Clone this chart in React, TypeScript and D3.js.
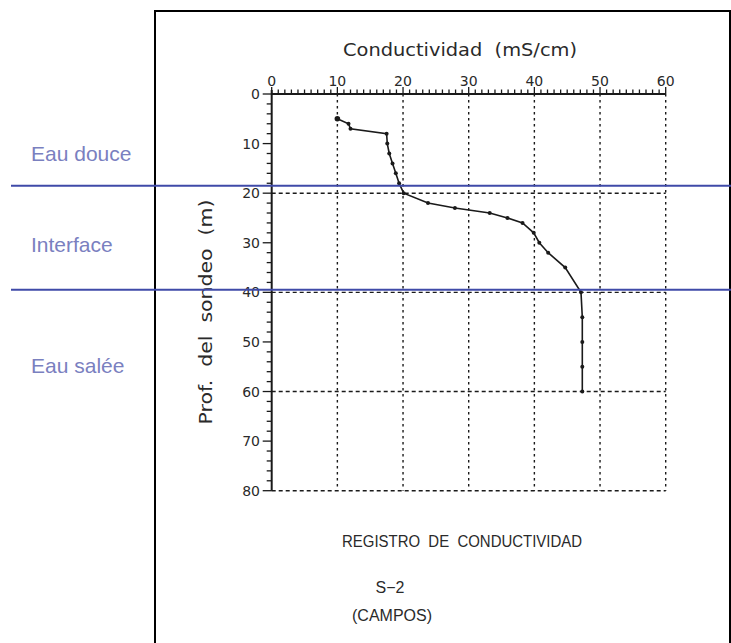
import React from "react";
import * as d3 from "d3";

const conductivity = [10, 11.7, 12, 17.5, 17.6, 17.9, 18.4, 18.9, 19.4, 20.1, 23.8, 27.9, 33.2, 35.9, 38.2, 39.9, 40.75, 42.1, 44.7, 47.1, 47.3, 47.3, 47.3, 47.3];
const depth = [5, 6, 7, 8, 10, 12, 14, 16, 18, 20, 22, 23, 24, 25, 26, 28, 30, 32, 35, 40, 45, 50, 55, 60];
const xTicks = [0, 10, 20, 30, 40, 50, 60];
const yTicks = [0, 10, 20, 30, 40, 50, 60, 70, 80];
const yGrid = [20, 40, 60, 80];
const xGrid = [10, 20, 30, 40, 50, 60];
const zoneBounds = [18.5, 39.5];
const zoneLabels = [
  { label: "Eau douce", depth: 12 },
  { label: "Interface", depth: 30.3 },
  { label: "Eau salée", depth: 54.7 },
];

export default function App() {
  const W = 731, H = 643;
  const x = d3.scaleLinear().domain([0, 60]).range([271.7, 665.7]);
  const y = d3.scaleLinear().domain([0, 80]).range([94, 490.7]);
  const pts: [number, number][] = conductivity.map((c, i) => [c, depth[i]]);
  const line = d3.line<[number, number]>().x(d => x(d[0])).y(d => y(d[1]));
  const minorX = d3.range(0, 61, 1);
  const minorY = d3.range(0, 81, 2);
  const ink = "#1a1a1a";
  const txt = "#2a2a2a";
  const font = "'DejaVu Sans', sans-serif";
  return (
    <svg width={W} height={H} style={{ position: "fixed", left: 0, top: 0, background: "#fff" }}>
      <rect x={0} y={0} width={W} height={H} fill="#fff" />
      <rect x={155} y={11} width={575} height={700} fill="none" stroke="#000" strokeWidth={2} />
      {/* grid */}
      {xGrid.map(v => (
        <line key={"gx" + v} x1={x(v)} x2={x(v)} y1={y(0)} y2={y(80)} stroke={ink} strokeWidth={1.4} strokeDasharray="2.5,3.5" />
      ))}
      {yGrid.map(v => (
        <line key={"gy" + v} x1={x(0)} x2={x(60)} y1={y(v)} y2={y(v)} stroke={ink} strokeWidth={1.4} strokeDasharray="4,3" />
      ))}
      {/* top axis */}
      <line x1={x(0)} x2={x(60)} y1={y(0)} y2={y(0)} stroke={ink} strokeWidth={2} />
      {minorX.map(v => (
        <line key={"mx" + v} x1={x(v)} x2={x(v)} y1={y(0)} y2={y(0) - (v % 10 === 0 ? 7 : 4.5)} stroke={ink} strokeWidth={1.3} />
      ))}
      {xTicks.map(v => (
        <text key={"tx" + v} x={x(v)} y={86} textAnchor="middle" fontFamily={font} fontSize={14} fill={txt}>{v}</text>
      ))}
      {/* left axis */}
      <line x1={x(0)} x2={x(0)} y1={y(0) - 4} y2={y(80)} stroke={ink} strokeWidth={2} />
      {minorY.map(v => (
        <line key={"my" + v} x1={x(0)} x2={x(0) - (v % 10 === 0 ? 9 : 5)} y1={y(v)} y2={y(v)} stroke={ink} strokeWidth={1.3} />
      ))}
      {yTicks.map(v => (
        <text key={"ty" + v} x={260} y={y(v)} dy="0.36em" textAnchor="end" fontFamily={font} fontSize={14} fill={txt}>{v}</text>
      ))}
      {/* titles */}
      <text x={460} y={56} textAnchor="middle" fontFamily={font} fontSize={17} fill={txt} textLength={234} lengthAdjust="spacingAndGlyphs" style={{ whiteSpace: "pre" }}>{"Conductividad  (mS/cm)"}</text>
      <text transform="translate(212,312) rotate(-90)" textAnchor="middle" fontFamily={font} fontSize={18} fill={txt} textLength={225} lengthAdjust="spacingAndGlyphs" style={{ whiteSpace: "pre" }}>{"Prof.  del  sondeo  (m)"}</text>
      <text x={462} y={547} textAnchor="middle" fontFamily="'Liberation Sans', Arial, sans-serif" fontSize={16} fill={txt} textLength={240} lengthAdjust="spacingAndGlyphs" style={{ whiteSpace: "pre" }}>{"REGISTRO  DE  CONDUCTIVIDAD"}</text>
      <text x={390} y={593} textAnchor="middle" fontFamily="'Liberation Sans', Arial, sans-serif" fontSize={16} fill={txt}>S−2</text>
      <text x={392} y={621} textAnchor="middle" fontFamily="'Liberation Sans', Arial, sans-serif" fontSize={16} fill={txt}>(CAMPOS)</text>
      {/* data */}
      <path d={line(pts) || ""} fill="none" stroke={ink} strokeWidth={1.6} />
      {pts.map((p, i) => (
        <circle key={"p" + i} cx={x(p[0])} cy={y(p[1])} r={i === 0 ? 2.8 : 2} fill={ink} />
      ))}
      {/* zone lines */}
      {zoneBounds.map(v => (
        <line key={"zb" + v} x1={11} x2={731} y1={y(v)} y2={y(v)} stroke="#3f4aa8" strokeWidth={2} />
      ))}
      {zoneLabels.map(z => (
        <text key={z.label} x={31} y={y(z.depth) + 7.5} fontFamily="'Liberation Sans', Arial, sans-serif" fontSize={21} fill="#7a80bf">{z.label}</text>
      ))}
    </svg>
  );
}
